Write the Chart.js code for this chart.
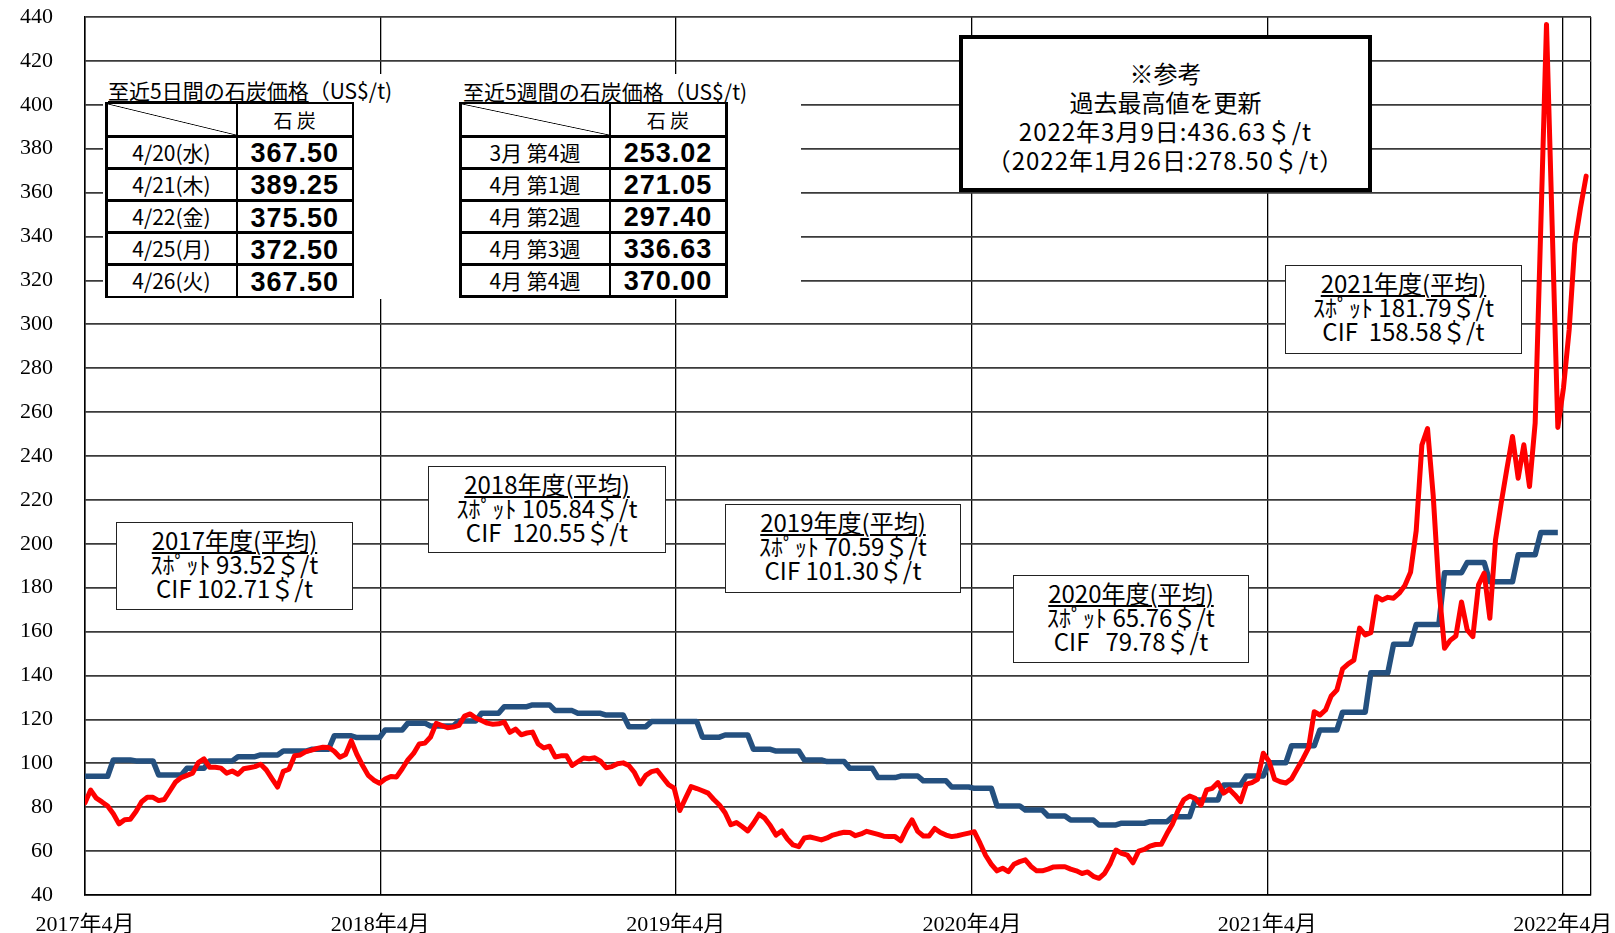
<!DOCTYPE html>
<html lang="ja"><head><meta charset="utf-8">
<script src="https://cdn.jsdelivr.net/npm/chart.js@4.4.1/dist/chart.umd.min.js"></script>
<style>
html,body{margin:0;padding:0;background:#fff;overflow:hidden;}
#wrap{position:relative;width:1615px;height:933px;}
#c{position:absolute;left:0;top:0;}
.jp{font-family:"Noto Sans CJK JP","Noto Sans",sans-serif;color:#000;}
.blank{position:absolute;background:#fff;}
.ttl{position:absolute;font-size:21px;line-height:24px;white-space:nowrap;}
.ttl u{text-underline-offset:2px;}
.tbl{position:absolute;background:#000;padding:2.5px;display:grid;gap:2.5px;box-sizing:border-box;}
.tbl div{background:#fff;display:flex;align-items:center;justify-content:center;white-space:pre;line-height:1;min-height:0;overflow:hidden;}
.tbl .hd{font-size:19px;}
.tbl .lb{font-size:21px;}
.tbl .vl{font-family:"Liberation Sans",Arial,sans-serif;font-weight:bold;font-size:27px;letter-spacing:1px;padding-top:3px;}
.tbl .dg{background:linear-gradient(to top right,#fff calc(50% - 0.8px),#000 50%,#fff calc(50% + 0.8px));}
.fy{position:absolute;background:#fff;border:1.5px solid #222;box-sizing:border-box;text-align:center;font-size:24px;line-height:24px;padding-top:5px;white-space:pre;}
.fy .t{text-decoration:underline;text-underline-offset:2px;text-decoration-thickness:1.5px;}
#note{position:absolute;left:959px;top:35px;width:413px;height:157px;border:4px solid #000;background:#fff;box-sizing:border-box;text-align:center;font-size:24px;line-height:29px;padding-top:19px;white-space:pre;}
#note .w{letter-spacing:1px;}
</style></head>
<body><div id="wrap"><canvas id="c" width="1615" height="933"></canvas></div>
<script>
// ---- data ----
const spotWeekly = [
82, 87.8, 84.1, 82.4, 80.5, 77, 72.4, 74.3, 74.5, 78,
82.5, 84.5, 84.5, 83, 83.5, 87.5, 91.5, 93.5, 94.5, 95.5,
100.3, 102, 98.2, 98.2, 97.8, 95.5, 96.5, 95, 97.5, 98,
98.5, 99.6, 97, 93, 89.2, 96.3, 97.3, 103.4, 103.8, 105.3,
106, 106.8, 107.3, 107.2, 105.5, 102.8, 104, 110.3, 104, 99,
94.5, 92.3, 90.9, 92.8, 94, 93.8, 97.5, 101.6, 104.5, 108.8,
109.2, 112, 118.2, 117.2, 116.2, 116.5, 117.3, 121.5, 122.5, 120.6,
119.5, 118.3, 117.8, 118, 118.8, 114.1, 115.6, 113, 113.8, 114.2,
108.8, 107, 107.8, 102.9, 103.4, 103.4, 99, 100.7, 102.4, 102.1,
102.5, 101, 98, 98.5, 99.8, 100.2, 99, 95.8, 90.6, 94.5,
96.2, 96.8, 93.5, 90.3, 88.7, 78.5, 84, 89.4, 88.5, 87.5,
86.4, 83.5, 81, 77.5, 72, 73, 71.2, 69.2, 72.7, 76.8,
75, 71.5, 67.3, 69.2, 65.5, 62.8, 62, 66, 66.4, 65.8,
65.1, 66, 67.3, 68, 68.6, 68.5, 67, 67.8, 69, 68.3,
67.6, 66.8, 66.6, 66.6, 64.7, 70, 74.2, 69, 66.9, 66.9,
70.3, 68.5, 67.3, 66.6, 67, 67.6, 68.2, 68.8, 63.6, 58,
54, 51, 52.2, 50.6, 54, 55.2, 56, 53, 51, 51,
51.8, 52.8, 52.9, 52.9, 51.8, 51, 49.8, 50.5, 48.5, 47.6,
49.9, 54.4, 60.5, 59, 58.2, 54.7, 60, 60.8, 62.3, 63,
63.1, 68, 72.5, 78.7, 83.5, 85.1, 84, 81, 87.9, 88.6,
91.2, 86.4, 88.2, 85.6, 82.5, 90.5, 91.2, 92.7, 104.6, 101,
92.7, 91.6, 91, 93, 97.5, 102, 107, 123.5, 122, 124.3,
130.7, 133.4, 143, 145.3, 147, 161.6, 158.5, 159.5, 175.9, 174.4,
175.6, 175.2, 177.5, 181, 187, 206, 245, 252.5, 222, 180,
152.4, 156, 158, 173.5, 160.8, 157.7, 181.3, 186.6, 166.1, 201.8,
218.5, 234, 248.9, 229.9, 245.1, 226.1, 255, 345, 436.63, 345,
253.02, 271.05, 297.4, 336.63, 353, 367.5
];
const cifMonthly = [
94.1, 101.5, 101.1, 94.7, 97.7, 101.1, 103, 103.8, 105.6, 106.4, 112.5, 111.7,
115.2, 118.3, 117, 119.3, 122.8, 125.8, 126.6, 124, 122.8, 122, 116.7, 119,
119, 111.9, 112.9, 106.4, 105.6, 101.5, 100.8, 97.7, 93.5, 94.2, 92, 89.2,
88.6, 80.6, 78.7, 76, 74.2, 71.9, 72.7, 73.4, 75.7, 83.3, 90.1, 94.2,
100.3, 108, 115.2, 123.3, 141.3, 154.2, 163.2, 186.8, 191.5, 182.7, 195, 205.2
];
const xTickYears = [2017, 2018, 2019, 2020, 2021, 2022];
const xTickLabels = ['2017年4月', '2018年4月', '2019年4月', '2020年4月', '2021年4月', '2022年4月'];
const yTickMin = 40, yTickMax = 440, yTickStep = 20;

const dailyDates = ['4/20(水)', '4/21(木)', '4/22(金)', '4/25(月)', '4/26(火)'];
const dailyPrices = ['367.50', '389.25', '375.50', '372.50', '367.50'];
const weekNames = ['3月 第4週', '4月 第1週', '4月 第2週', '4月 第3週', '4月 第4週'];
const weeklyPrices = ['253.02', '271.05', '297.40', '336.63', '370.00'];

const fyTitles = ['2017年度(平均)', '2018年度(平均)', '2019年度(平均)', '2020年度(平均)', '2021年度(平均)'];
const fySpot = ['ｽﾎﾟｯﾄ 93.52＄/t', 'ｽﾎﾟｯﾄ 105.84＄/t', 'ｽﾎﾟｯﾄ 70.59＄/t', 'ｽﾎﾟｯﾄ 65.76＄/t', 'ｽﾎﾟｯﾄ 181.79＄/t'];
const fyCif = ['CIF 102.71＄/t', 'CIF  120.55＄/t', 'CIF 101.30＄/t', 'CIF   79.78＄/t', 'CIF  158.58＄/t'];
const noteLines = ['※参考', '過去最高値を更新', '2022年3月9日:436.63＄/t', '（2022年1月26日:278.50＄/t）'];

// ---- build series (weekly points, dated from 2017-04-01) ----
const DAY = 86400000;
const weekStart = Date.UTC(2017, 3, 1);
const xMaxDays = 1861;
const spotPoints = spotWeekly.map((v, k) => ({x: k * 7, y: v}));
const cifPoints = [];
for (let k = 0; k < 400; k++) {
  const d = new Date(weekStart + k * 7 * DAY);
  const idx = (d.getUTCFullYear() - 2017) * 12 + d.getUTCMonth() - 3;
  if (idx >= cifMonthly.length) break;
  cifPoints.push({x: k * 7, y: cifMonthly[Math.max(0, idx)]});
}
const tickDays = xTickYears.map(y => Math.round((Date.UTC(y, 3, 1) - weekStart) / DAY));

new Chart(document.getElementById('c').getContext('2d'), {
  type: 'line',
  data: {datasets: [
    {label: 'スポット', data: spotPoints, borderColor: '#ff0000', borderWidth: 5, pointRadius: 0,
     tension: 0, borderJoinStyle: 'round', borderCapStyle: 'round'},
    {label: 'CIF', data: cifPoints, borderColor: '#24507f', borderWidth: 5.5, pointRadius: 0,
     tension: 0, borderJoinStyle: 'round', borderCapStyle: 'butt'}
  ]},
  options: {
    responsive: false, animation: false, devicePixelRatio: 1,
    layout: {padding: {top: 17, right: 24, left: 0, bottom: 0}},
    plugins: {legend: {display: false}, tooltip: {enabled: false}},
    scales: {
      x: {type: 'linear', min: 0, max: xMaxDays,
        afterBuildTicks: s => { s.ticks = tickDays.concat([xMaxDays]).map(v => ({value: v})); },
        afterFit: s => { s.height = 38; },
        grid: {color: '#000', lineWidth: 1.3, drawTicks: false},
        border: {color: '#000', width: 1.5},
        ticks: {autoSkip: false, maxRotation: 0, padding: 17, color: '#000',
          font: {family: '"Liberation Serif", "Noto Sans CJK JP", serif', size: 22},
          callback: (v, i) => (i < xTickLabels.length ? xTickLabels[i] : '')}
      },
      y: {min: yTickMin, max: yTickMax,
        afterFit: s => { s.width = 85; s.paddingTop = 0; s.paddingBottom = 0; },
        grid: {color: '#3a3a3a', lineWidth: 1.8, drawTicks: false},
        border: {color: '#000', width: 1.5},
        ticks: {stepSize: yTickStep, padding: 32, color: '#000',
          font: {family: '"Liberation Serif", serif', size: 22}}
      }
    }
  }
});

// ---- overlays (real text) ----
const wrap = document.getElementById('wrap');
function add(html) { wrap.insertAdjacentHTML('beforeend', html); }
add('<div class="blank" style="left:103px;top:74px;width:698px;height:225px"></div>');
add('<div class="ttl jp" style="left:108px;top:78px"><u>至近5日間の石炭価格</u>（US$/t)</div>');
add('<div class="ttl jp" style="left:463px;top:79px"><u>至近5週間の石炭価格</u>（US$/t)</div>');
function table(left, top, w, h, c1, c2, labels, vals) {
  let s = `<div class="tbl jp" style="left:${left}px;top:${top}px;width:${w}px;height:${h}px;grid-template-columns:${c1}px ${c2}px;grid-template-rows:31px repeat(5,minmax(0,1fr))">`;
  s += '<div class="dg"></div><div class="hd">石 炭</div>';
  labels.forEach((l, i) => { s += `<div class="lb">${l}</div><div class="vl">${vals[i]}</div>`; });
  add(s + '</div>');
}
table(105, 101.5, 249, 196.5, 128, 113.5, dailyDates, dailyPrices);
table(459, 101.5, 268.5, 196, 147, 114, weekNames, weeklyPrices);
const fyBoxes = [[116, 522, 237, 88], [428, 466, 238, 87], [725, 504, 236, 89], [1013, 575, 236, 88], [1285, 265, 237, 89]];
fyBoxes.forEach((b, i) => {
  add(`<div class="fy jp" style="left:${b[0]}px;top:${b[1]}px;width:${b[2]}px;height:${b[3]}px"><span class="t">${fyTitles[i]}</span>\n${fySpot[i]}\n${fyCif[i]}</div>`);
});
add(`<div id="note" class="jp">${noteLines[0]}\n${noteLines[1]}\n<span class="w">${noteLines[2]}</span>\n<span class="w">${noteLines[3]}</span></div>`);
</script>
</body></html>
